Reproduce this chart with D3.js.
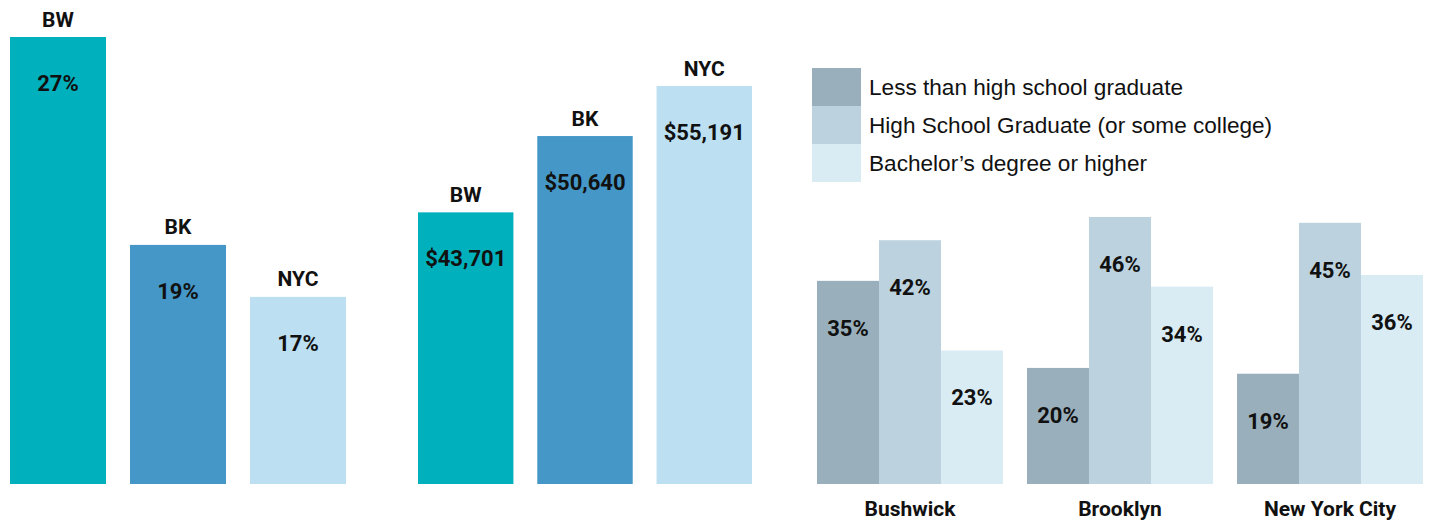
<!DOCTYPE html>
<html>
<head>
<meta charset="utf-8">
<script src="https://cdn.jsdelivr.net/npm/d3@7"></script>
<style>
  body { margin: 0; background: #fff; }
  .bold { font-family: Roboto, "Liberation Sans", sans-serif; font-weight: bold; fill: #111; }
  .legend { font-family: "Liberation Sans", Arial, sans-serif; font-size: 22.6px; fill: #111; }
</style>
</head>
<body>
<script>
// Data
const areas = ['BW', 'BK', 'NYC'];
const povertyRate = [27, 19, 17];
const medianIncome = [43701, 50640, 55191];
const incomeLabels = ['$43,701', '$50,640', '$55,191'];

const places = ['Bushwick', 'Brooklyn', 'New York City'];
const eduLevels = ['Less than high school graduate', 'High School Graduate (or some college)', 'Bachelor\u2019s degree or higher'];
const eduLess = [35, 20, 19];
const eduHigh = [42, 46, 45];
const eduBach = [23, 34, 36];

const areaColors = ['#00b0bc', '#4497c6', '#bcdff2'];
const eduColors = ['#9aafbc', '#bcd3df', '#d9ecf4'];

const width = 1434;
const height = 522;
const base = 484;

const svg = d3.select('body')
  .append('svg')
  .attr('width', width)
  .attr('height', height);

// Simple 3-bar chart with a label above and a value inside each bar
function barChart(values, labels, xRange, yDomain, yTop) {
  const x = d3.scaleBand().domain(areas).range(xRange).paddingInner(0.2).paddingOuter(0);
  const y = d3.scaleLinear().domain(yDomain).range([base, yTop]);
  const g = svg.append('g');
  const rows = areas.map((a, i) => ({ area: a, value: values[i], label: labels[i], color: areaColors[i] }));

  g.selectAll('rect')
    .data(rows)
    .enter()
    .append('rect')
    .attr('x', d => x(d.area))
    .attr('y', d => y(d.value))
    .attr('width', x.bandwidth())
    .attr('height', d => base - y(d.value))
    .attr('fill', d => d.color);

  g.selectAll('text.area')
    .data(rows)
    .enter()
    .append('text')
    .attr('class', 'bold')
    .attr('x', d => x(d.area) + x.bandwidth() / 2)
    .attr('y', d => y(d.value) - 18)
    .attr('dy', '0.36em')
    .attr('text-anchor', 'middle')
    .style('font-size', '21px')
    .text(d => d.area);

  g.selectAll('text.val')
    .data(rows)
    .enter()
    .append('text')
    .attr('class', 'bold')
    .attr('x', d => x(d.area) + x.bandwidth() / 2)
    .attr('y', d => y(d.value) + 46)
    .attr('dy', '0.36em')
    .attr('text-anchor', 'middle')
    .style('font-size', '22px')
    .text(d => d.label);
}

barChart(povertyRate, povertyRate.map(v => v + '%'), [10, 346], [9.8, 27], 37);
barChart(medianIncome, incomeLabels, [418, 752], [19000, 55191], 86);

// Grouped education chart
const x0 = d3.scaleBand().domain(places).range([817, 1423]).paddingInner(24 / 210).paddingOuter(0);
const x1 = d3.scaleBand().domain(eduLevels).range([0, x0.bandwidth()]);
const y3 = d3.scaleLinear().domain([0, 46]).range([base, 217]);

const eduRows = places.map((p, i) => ({
  place: p,
  vals: [eduLess[i], eduHigh[i], eduBach[i]].map((v, j) => ({ level: eduLevels[j], value: v, color: eduColors[j] }))
}));

const groups = svg.append('g')
  .selectAll('g')
  .data(eduRows)
  .enter()
  .append('g')
  .attr('transform', d => `translate(${x0(d.place)},0)`);

groups.selectAll('rect')
  .data(d => d.vals)
  .enter()
  .append('rect')
  .attr('x', d => x1(d.level))
  .attr('y', d => y3(d.value))
  .attr('width', x1.bandwidth())
  .attr('height', d => base - y3(d.value))
  .attr('fill', d => d.color);

groups.selectAll('text')
  .data(d => d.vals)
  .enter()
  .append('text')
  .attr('class', 'bold')
  .attr('x', d => x1(d.level) + x1.bandwidth() / 2)
  .attr('y', d => y3(d.value) + 47)
  .attr('dy', '0.36em')
  .attr('text-anchor', 'middle')
  .style('font-size', '22px')
  .text(d => d.value + '%');

svg.append('g')
  .selectAll('text')
  .data(places)
  .enter()
  .append('text')
  .attr('class', 'bold')
  .attr('x', d => x0(d) + x0.bandwidth() / 2)
  .attr('y', 508)
  .attr('dy', '0.36em')
  .attr('text-anchor', 'middle')
  .style('font-size', '21px')
  .text(d => d);

// Legend
const legend = svg.append('g')
  .selectAll('g')
  .data(eduLevels)
  .enter()
  .append('g')
  .attr('transform', (d, i) => `translate(812, ${68 + i * 38})`);

legend.append('rect')
  .attr('width', 49)
  .attr('height', 38)
  .attr('fill', (d, i) => eduColors[i]);

legend.append('text')
  .attr('class', 'legend')
  .attr('x', 57)
  .attr('y', 19)
  .attr('dy', '0.36em')
  .text(d => d);
</script>
</body>
</html>
